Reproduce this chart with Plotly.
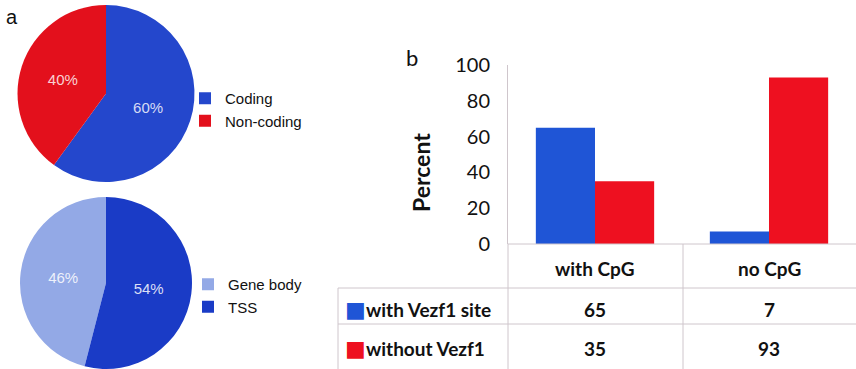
import plotly.graph_objects as go

W, H = 856, 369

# Panel a: genomic annotation of sites
coding_labels = ["Coding", "Non-coding"]
coding_values = [60, 40]
coding_colors = ["#2447cc", "#e3101c"]

region_labels = ["Gene body", "TSS"]
region_values = [46, 54]
region_colors = ["#93a9e6", "#1a3bc6"]

# Panel b: CpG content vs Vezf1 site
categories = ["with CpG", "no CpG"]
series_names = ["with Vezf1 site", "without Vezf1"]
with_vezf1 = [65, 7]
without_vezf1 = [35, 93]
series_values = [with_vezf1, without_vezf1]
series_colors = ["#1f55d6", "#ee1020"]
y_ticks = [0, 20, 40, 60, 80, 100]


def px_x(v):
    return v / W


def px_y(v):
    return 1 - v / H


fig = go.Figure()

fig.add_trace(go.Pie(
    labels=coding_labels, values=coding_values, sort=False,
    direction="clockwise", rotation=0,
    marker=dict(colors=coding_colors),
    textinfo="percent", textposition="inside",
    insidetextfont=dict(family="Liberation Sans", size=15, color="rgba(255,255,255,0.82)"),
    domain=dict(x=[px_x(17), px_x(195)], y=[px_y(182), px_y(5)]),
    legend="legend", hoverinfo="skip",
))

# Gene body sits on the left half: start it where the TSS share ends (clockwise)
tss_share = region_values[1] / sum(region_values)
fig.add_trace(go.Pie(
    labels=region_labels, values=region_values, sort=False,
    direction="clockwise", rotation=360 * tss_share,
    marker=dict(colors=region_colors),
    textinfo="percent", textposition="inside",
    insidetextfont=dict(family="Liberation Sans", size=15, color="rgba(255,255,255,0.85)"),
    domain=dict(x=[px_x(18), px_x(194)], y=[0, px_y(197)]),
    legend="legend2", hoverinfo="skip",
))

for name, vals, col in zip(series_names, series_values, series_colors):
    fig.add_trace(go.Bar(
        x=categories, y=vals, name=name, marker=dict(color=col, line=dict(width=0)),
        showlegend=False, hoverinfo="skip",
    ))

body_font = "Lato"
grid = "#cfc6cc"

fig.update_layout(
    width=W, height=H,
    margin=dict(l=0, r=0, t=0, b=0, autoexpand=False),
    paper_bgcolor="white", plot_bgcolor="white",
    barmode="group", bargap=0.32, bargroupgap=0,
    xaxis=dict(domain=[px_x(508), 1], showticklabels=False, ticks="",
               showline=False, showgrid=False, zeroline=False, fixedrange=True),
    yaxis=dict(domain=[px_y(244), px_y(65)], range=[0, 100], tickvals=y_ticks,
               ticks="outside", ticklen=13, tickcolor="rgba(0,0,0,0)",
               tickfont=dict(family=body_font, size=20, color="#111"),
               showline=True, linecolor=grid, linewidth=1,
               showgrid=False, zeroline=False, fixedrange=True),
    legend=dict(x=px_x(185), y=px_y(82), xanchor="left", yanchor="top",
                font=dict(family="Liberation Sans", size=15, color="#111"),
                bgcolor="rgba(0,0,0,0)", tracegroupgap=0, itemwidth=30),
    legend2=dict(x=px_x(188), y=px_y(268), xanchor="left", yanchor="top",
                 font=dict(family="Liberation Sans", size=15, color="#111"),
                 bgcolor="rgba(0,0,0,0)", tracegroupgap=0, itemwidth=30),
    showlegend=True,
)

# Data table under the bar chart
shapes = []
# x-axis baseline
shapes.append(dict(type="line", xref="paper", yref="paper",
                   x0=px_x(508), x1=1, y0=px_y(244), y1=px_y(244),
                   line=dict(color=grid, width=1)))
# vertical separators
for xv, ytop in [(508, 244), (683, 244)]:
    shapes.append(dict(type="line", xref="paper", yref="paper",
                       x0=px_x(xv), x1=px_x(xv), y0=px_y(ytop), y1=0,
                       line=dict(color=grid, width=1)))
shapes.append(dict(type="line", xref="paper", yref="paper",
                   x0=px_x(338), x1=px_x(338), y0=px_y(288), y1=0,
                   line=dict(color=grid, width=1)))
# horizontal row lines
for yv in [288, 324]:
    shapes.append(dict(type="line", xref="paper", yref="paper",
                       x0=px_x(338), x1=1, y0=px_y(yv), y1=px_y(yv),
                       line=dict(color=grid, width=1)))
fig.update_layout(shapes=shapes)

ann = []
bold = dict(family=body_font, size=19, color="#111", weight="bold")
for c in categories:
    ann.append(dict(x=c, xref="x", y=px_y(268), yref="paper", text=c,
                    showarrow=False, font=bold, xanchor="center", yanchor="middle"))
row_y = [309, 348]
for name, vals, col, ry in zip(series_names, series_values, series_colors, row_y):
    ann.append(dict(x=px_x(343), xref="paper", y=px_y(ry), yref="paper", text="■",
                    showarrow=False, font=dict(family="DejaVu Sans", size=22, color=col),
                    xanchor="left", yanchor="middle"))
    ann.append(dict(x=px_x(364), xref="paper", y=px_y(ry), yref="paper", text=name,
                    showarrow=False, font=bold, xanchor="left", yanchor="middle"))
    for c, v in zip(categories, vals):
        ann.append(dict(x=c, xref="x", y=px_y(ry), yref="paper", text=str(v),
                        showarrow=False, font=bold, xanchor="center", yanchor="middle"))

ann.append(dict(x=px_x(421), xref="paper", y=px_y(173), yref="paper", text="Percent",
                textangle=-90, showarrow=False,
                font=dict(family=body_font, size=23, color="#111", weight="bold"),
                xanchor="center", yanchor="middle"))
ann.append(dict(x=px_x(4), xref="paper", y=px_y(17), yref="paper", text="a",
                showarrow=False, font=dict(family="Liberation Sans", size=20, color="#111"),
                xanchor="left", yanchor="middle"))
ann.append(dict(x=px_x(404), xref="paper", y=px_y(57), yref="paper", text="b",
                showarrow=False, font=dict(family="Lato", size=22, color="#111"),
                xanchor="left", yanchor="middle"))
fig.update_layout(annotations=ann)

fig.write_html("out.html")
